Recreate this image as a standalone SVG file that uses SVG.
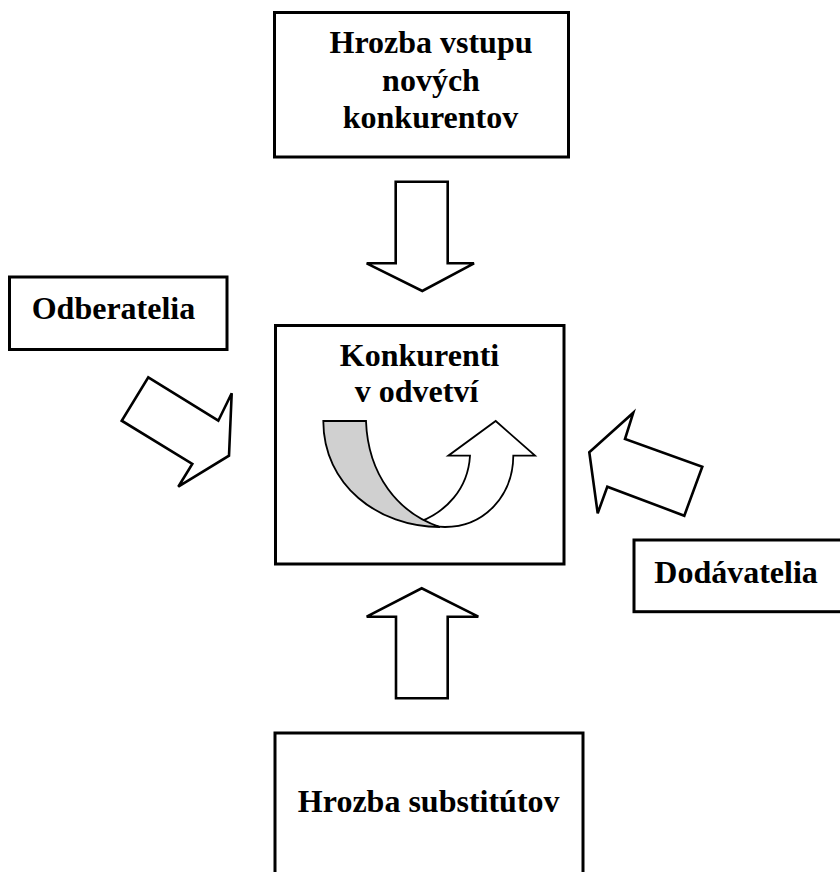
<svg xmlns="http://www.w3.org/2000/svg" width="840" height="872" viewBox="0 0 840 872">
<style>
.box{fill:#fff;stroke:#000;stroke-width:3}
.arr{fill:#fff;stroke:#000;stroke-width:2.6;stroke-linejoin:miter}
.t{font-family:"Liberation Serif","Times New Roman",serif;font-weight:bold;font-size:32px;fill:#000}
.c{text-anchor:middle}
.curve{stroke:#000;stroke-width:1.8;stroke-linejoin:miter}
</style>
<rect width="840" height="872" fill="#fff"/>
<g id="connectors">
<polygon class="arr" points="395.7,181.7 447.7,181.7 447.7,263.3 474,263.3 422.3,291 366.7,263.3 395.7,263.3"/>
<polygon class="arr" points="396,698.3 447.7,698.3 447.7,616.7 478.3,616.7 421.7,588.3 366.7,616.7 396,616.7"/>
<polygon class="arr" points="148.3,377.3 218.3,420.7 231.7,393.3 229,455.7 178.3,486.7 192.3,464 121.7,420.7"/>
<polygon class="arr" points="633.3,412.7 625,439 702.3,466.7 684.3,515.7 607.3,486.7 597.7,513.3 589.3,452.3"/>
</g>
<g id="top">
<rect class="box" x="274.5" y="12.5" width="294" height="144.5"/>
<text class="t c" x="431" y="53">Hrozba vstupu</text>
<text class="t c" x="431" y="91">nových</text>
<text class="t c" x="430.5" y="128">konkurentov</text>
</g>
<g id="center">
<rect class="box" x="275.5" y="325.5" width="288.5" height="238.5"/>
<text class="t c" x="419.5" y="366">Konkurenti</text>
<text class="t c" x="416.5" y="401.5">v odvetví</text>
<path class="curve" fill="#fff" d="M420,521.7 C445,512 468,490 470,455.7 L448.3,455.7 L495.7,421 L535,455.7 L513.3,455.7 C513,495 485,527 445,527 C435,527 428,525 420,521.7 Z"/>
<path class="curve" fill="#d0d0d0" d="M323.3,421 L366,421 C368,475 398,513 440,527 C378,527 323.3,485 323.3,421 Z"/>
</g>
<g id="left">
<rect class="box" x="9.5" y="277" width="217.5" height="72.5"/>
<text class="t" x="31.7" y="319.3">Odberatelia</text>
</g>
<g id="right">
<rect class="box" x="634" y="540" width="210" height="71.7"/>
<text class="t" x="654.3" y="583.3">Dodávatelia</text>
</g>
<g id="bottom">
<rect class="box" x="275" y="733" width="308" height="150"/>
<text class="t c" x="428.7" y="811.7">Hrozba substitútov</text>
</g>
</svg>
